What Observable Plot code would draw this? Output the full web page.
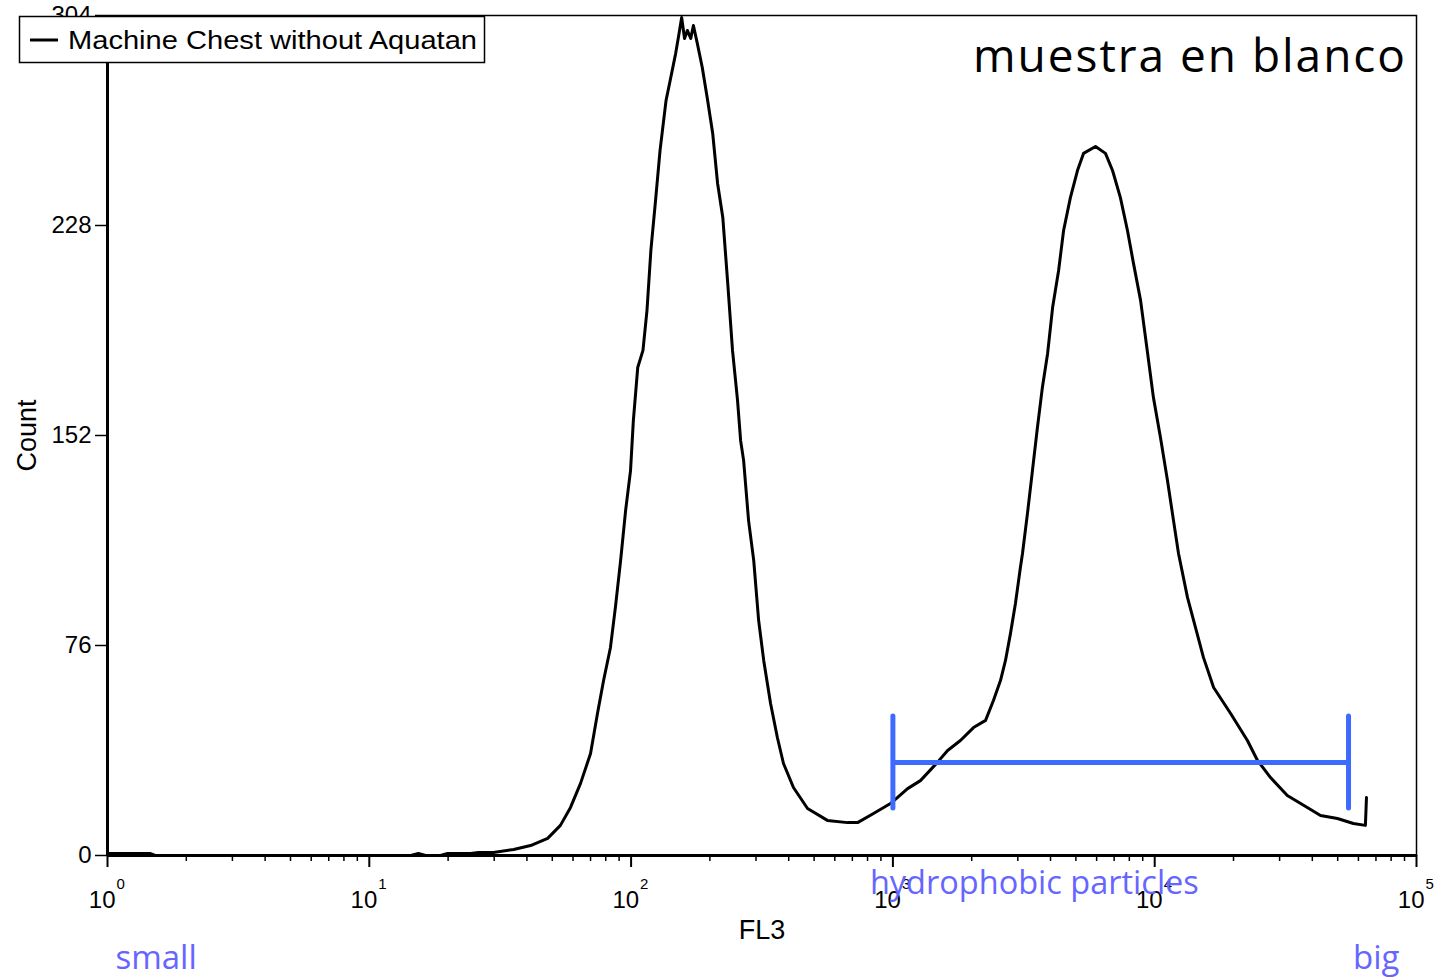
<!DOCTYPE html>
<html>
<head>
<meta charset="utf-8">
<script src="https://cdn.jsdelivr.net/npm/d3@7"></script>
<script src="https://cdn.jsdelivr.net/npm/@observablehq/plot@0.6"></script>
<style>
  body { margin: 0; background: #fff; }
  #chart svg { display: block; }
</style>
</head>
<body>
<div id="chart"></div>
<script>
// ---- data ----
const fl3 = [1, 1.46, 1.52, 14.4, 15.4, 16.4, 18.7, 19.9, 24.4, 26.1, 29.8, 35.6, 41.3, 48.0, 53.7, 58.7, 64.1, 70.0, 74.4, 78.5,
  83.4, 87.1, 91.2, 95.3, 99.5, 102, 106, 111, 115, 119, 124, 129, 136, 141, 148, 152, 156, 160, 164, 169,
  173, 179, 187, 196, 205, 214, 224, 234, 244, 255, 262, 269, 281, 294, 307, 321, 341, 362, 382, 417,
  472, 562, 671, 733, 843, 979, 1138, 1274, 1479, 1618, 1811, 2032, 2259, 2421, 2576, 2692, 2812, 2938, 3069, 3126,
  3266, 3412, 3565, 3724, 3899, 4074, 4295, 4487, 4764, 5070, 5346, 5943, 6486, 6902, 7396, 7870, 8298, 8831, 9397, 9886,
  10520, 11190, 11800, 12330, 13340, 14320, 15350, 16790, 19500, 22600, 24700, 27700, 32100, 36100, 43000, 49900, 57400, 63800, 64400];
const count = [0.7, 0.7, 0, 0, 0.7, 0, 0, 0.7, 0.7, 1.1, 1.1, 2.2, 3.6, 6.2, 10.9, 17.4, 26.1, 36.9, 51.4, 63.3,
  75.3, 89.8, 106.8, 124.9, 139.3, 157.4, 176.6, 182.8, 197.3, 219.0, 237.1, 255.2, 273.3, 280.5, 290.3, 296.8, 303.3, 295.7, 298.6, 295.7,
  300.4, 293.9, 285.2, 273.3, 261.3, 243.2, 230.9, 207.0, 182.8, 164.7, 150.2, 143.0, 121.2, 106.8, 85.1, 70.6, 55.0, 42.7, 33.3, 24.6,
  17.0, 12.7, 11.9, 11.9, 15.2, 18.8, 24.2, 27.1, 33.7, 38.0, 41.6, 46.3, 48.9, 56.1, 63.3, 70.6, 80.3, 91.2, 104.2, 109.3,
  123.8, 139.3, 154.9, 169.4, 181.7, 198.3, 211.7, 226.2, 238.1, 247.9, 254.1, 256.6, 254.1, 247.9, 238.1, 226.2, 214.3, 200.9, 181.7, 165.8,
  151.3, 135.7, 121.2, 109.3, 93.4, 82.5, 71.7, 60.8, 51.4, 41.6, 34.4, 28.2, 21.7, 18.8, 14.5, 13.4, 11.6, 10.9, 21.0];

const yTicks = [0, 76, 152, 228, 304];
const majorTicks = [1, 10, 100, 1000, 10000, 100000];
const tickBase = "10";
const tickExponents = ["0", "1", "2", "3", "4", "5"];
const minorTicks = majorTicks.slice(0, -1).flatMap(d => [2, 3, 4, 5, 6, 7, 8, 9].map(k => k * d));

const gateRange = [1000, 55000];
const gateLevel = 33.7;
const gateCap = [17, 50.3];

const xLabel = "FL3";
const yLabel = "Count";
const gateLabel = "hydrophobic particles";
const lowLabel = "small";
const highLabel = "big";
const legendLabel = "Machine Chest without Aquatan";
const title = "muestra en blanco";

// ---- chart ----
const data = fl3.map((x, i) => ({fl3: x, count: count[i]}));
const gateBlue = "#3d6bff";
const labelBlue = "#6666ff";
const sans = "Liberation Sans, Arial, sans-serif";

const plot = Plot.plot({
  width: 1435,
  height: 977,
  marginLeft: 107,
  marginRight: 19,
  marginTop: 15,
  marginBottom: 122,
  style: {fontFamily: sans, fontSize: "24px", background: "#fff", color: "#000"},
  x: {type: "log", domain: [1, 1e5], label: null},
  y: {domain: [0, 304], label: null},
  marks: [
    Plot.axisY({ticks: yTicks, tickSize: 12, tickPadding: 4, tickFormat: d => String(d), fontSize: 24, strokeWidth: 1.5, label: null}),
    Plot.axisX({ticks: minorTicks, tickSize: 6, tickFormat: () => "", strokeWidth: 1.5, label: null}),
    Plot.axisX({ticks: majorTicks, tickSize: 12, tickFormat: () => "", strokeWidth: 2, label: null}),
    Plot.text(majorTicks, {x: d => d, frameAnchor: "bottom", lineAnchor: "bottom", text: () => tickBase, textAnchor: "end", dx: 8, dy: 52, fontSize: 24}),
    Plot.text(majorTicks, {x: d => d, frameAnchor: "bottom", lineAnchor: "bottom", text: (d, i) => tickExponents[i], textAnchor: "start", dx: 9, dy: 33, fontSize: 15}),
    Plot.frame({strokeWidth: 1.5}),
    Plot.ruleX([1], {strokeWidth: 3}),
    Plot.ruleY([0], {strokeWidth: 3}),
    Plot.line(data, {x: "fl3", y: "count", stroke: "#000", strokeWidth: 3}),
    Plot.ruleY([gateLevel], {x1: gateRange[0], x2: gateRange[1], stroke: gateBlue, strokeWidth: 5}),
    Plot.ruleX(gateRange, {y1: gateCap[0], y2: gateCap[1], stroke: gateBlue, strokeWidth: 5, strokeLinecap: "round"}),
    Plot.text([xLabel], {text: d => d, frameAnchor: "bottom", lineAnchor: "bottom", dy: 83, fontSize: 27}),
    Plot.text([yLabel], {text: d => d, frameAnchor: "left", textAnchor: "middle", lineAnchor: "middle", dx: -80, rotate: -90, fontSize: 27}),
    Plot.text([gateLabel], {text: d => d, x: gateRange[0], frameAnchor: "bottom", lineAnchor: "bottom", textAnchor: "start", dx: -23, dy: 38, fontSize: 32.5, fill: labelBlue, fontFamily: "Open Sans"}),
    Plot.text([lowLabel], {text: d => d, frameAnchor: "bottom-left", lineAnchor: "bottom", textAnchor: "start", dx: 8, dy: 113, fontSize: 33, fill: labelBlue, fontFamily: "Open Sans"}),
    Plot.text([highLabel], {text: d => d, frameAnchor: "bottom-right", lineAnchor: "bottom", textAnchor: "end", dx: -17, dy: 113, fontSize: 33, fill: labelBlue, fontFamily: "Open Sans"})
  ]
});

// legend box and title inside the frame
const svg = d3.select(plot);
const lg = svg.append("g").attr("text-anchor", "start");
lg.append("rect").attr("x", 19.5).attr("y", 16.5).attr("width", 465).attr("height", 46)
  .attr("fill", "#fff").attr("stroke", "#000").attr("stroke-width", 1.5);
lg.append("line").attr("x1", 30).attr("x2", 58).attr("y1", 40).attr("y2", 40)
  .attr("stroke", "#000").attr("stroke-width", 3);
lg.append("text").attr("x", 68).attr("y", 49).attr("text-anchor", "start").attr("font-family", sans).attr("font-size", 25)
  .attr("textLength", 409).attr("lengthAdjust", "spacingAndGlyphs").attr("fill", "#000").text(legendLabel);
svg.append("text").attr("x", 1405).attr("y", 72).attr("text-anchor", "end")
  .attr("font-family", "Open Sans, sans-serif").attr("font-size", 46)
  .attr("textLength", 432).attr("lengthAdjust", "spacing").attr("fill", "#000").text(title);

document.getElementById("chart").appendChild(plot);
</script>
</body>
</html>
